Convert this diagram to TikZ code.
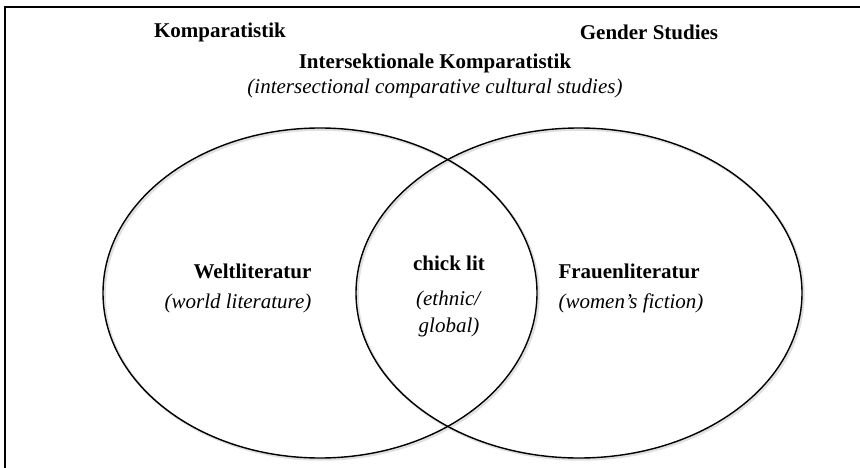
\documentclass[tikz,border=0pt]{standalone}
\usepackage{fontspec}
\setmainfont{Liberation Serif}
\usetikzlibrary{shapes.geometric,positioning}
\tikzset{
    headtext/.style = {font=\fontsize{21}{25}\selectfont\bfseries, inner sep=0pt},
    subtext/.style = {font=\fontsize{21}{25}\selectfont\itshape, inner sep=0pt},
    settext/.style = {font=\fontsize{21}{30}\selectfont, inner sep=0pt},
    setring/.style = {draw, ellipse, line width=1.4pt, inner sep=0pt},
    setshadow/.style = {draw=black!12, ellipse, line width=2.5pt, inner sep=0pt}
}

\begin{document}
\begin{tikzpicture}[x=1pt,y=-1pt]
                \useasboundingbox (0,0) rectangle (860,468);

                %% frame
                \draw[line width=1.5pt] (860,7) -- (5,7) -- (5,468);

                %% shadows
                \node[setshadow, minimum width=434pt, minimum height=330pt] at (321.5,294.5) {};
                \node[setshadow, minimum width=446pt, minimum height=330pt] at (580.5,294.5) {};

                %% sets
                \node[setring, minimum width=434pt, minimum height=330pt] (welt) at (320,293) {};
                \node[setring, minimum width=446pt, minimum height=330pt] (frauen) at (579,293) {};

                %% headings
                \node[headtext] (komp) at (220,32) {Komparatistik};
                \node[headtext] (gender) at (649,32) {Gender Studies};
                \node[headtext] (inter) at (435,63) {Intersektionale Komparatistik};
                \node[subtext, below=6pt of inter] (intersub) {(intersectional comparative cultural studies)};

                %% set labels
                \node[settext, align=right] (weltlabel) at (238,288) {\textbf{Weltliteratur}\\\textit{(world literature)}};
                \node[settext, align=center] (chicklabel) at (449,296) {\textbf{chick lit}\\[5pt]\textit{(ethnic/}\\[-3pt]\textit{global)}};
                \node[settext, align=left] (frauenlabel) at (631,288) {\textbf{Frauenliteratur}\\\textit{(women’s fiction)}};

            \end{tikzpicture}
\end{document}
